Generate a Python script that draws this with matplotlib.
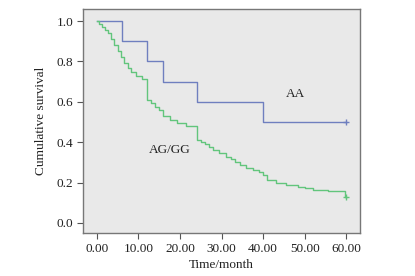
import matplotlib
matplotlib.use("Agg")
import matplotlib.pyplot as plt

# AA group (Kaplan-Meier step data)
aa_times = [0, 6.0, 12.0, 16.0, 24.0, 40.0, 60.0]
aa_surv = [1.0, 0.9, 0.8, 0.7, 0.6, 0.5, 0.5]
aa_censor = (60.0, 0.5)

# AG/GG group
ag_times = [0, 0.6, 1.3, 2.0, 2.7, 3.4, 4.2, 5.0, 5.8, 6.6, 7.4, 8.2, 9.5, 10.8,
            12.0, 13.0, 14.0, 15.0, 16.0, 17.5, 19.2, 21.5, 24.0, 25.0, 26.0, 27.0,
            28.0, 29.5, 31.2, 32.2, 33.2, 34.5, 36.0, 37.5, 39.0, 40.0, 41.0, 43.0,
            45.5, 48.5, 50.0, 52.0, 55.7, 59.6, 60.0]
ag_surv = [1.0, 0.985, 0.97, 0.955, 0.94, 0.91, 0.88, 0.85, 0.82, 0.79, 0.77, 0.75, 0.73, 0.713,
           0.61, 0.595, 0.575, 0.56, 0.53, 0.51, 0.495, 0.48, 0.41, 0.40, 0.39, 0.375,
           0.36, 0.345, 0.328, 0.315, 0.30, 0.285, 0.27, 0.26, 0.25, 0.235, 0.213, 0.196,
           0.19, 0.18, 0.172, 0.165, 0.158, 0.127, 0.127]
ag_censor = (60.0, 0.127)

x_ticks = [0, 10, 20, 30, 40, 50, 60]
x_labels = ["0.00", "10.00", "20.00", "30.00", "40.00", "50.00", "60.00"]
y_ticks = [0.0, 0.2, 0.4, 0.6, 0.8, 1.0]
y_labels = ["0.0", "0.2", "0.4", "0.6", "0.8", "1.0"]

plt.rcParams['font.family'] = ['Liberation Serif', 'DejaVu Serif']

fig = plt.figure(figsize=(4.15, 2.76), dpi=100)
ax = fig.add_axes([0.2, 0.1558, 0.6675, 0.8116])
ax.set_facecolor('#e9e9e9')

blue = '#6f7fbf'
green = '#62c57c'
ax.step(aa_times, aa_surv, where='post', color=blue, lw=1.0)
ax.step(ag_times, ag_surv, where='post', color=green, lw=1.0)
ax.plot(*aa_censor, marker='+', color=blue, ms=5, mew=1.0)
ax.plot(*ag_censor, marker='+', color=green, ms=5, mew=1.0)

ax.text(47.7, 0.64, 'AA', fontsize=9.5, color='#222222', ha='center', va='center')
ax.text(17.6, 0.36, 'AG/GG', fontsize=9.5, color='#222222', ha='center', va='center')

ax.set_xlim(-3.3, 63.3)
ax.set_ylim(-0.05, 1.06)
ax.set_xticks(x_ticks)
ax.set_xticklabels(x_labels)
ax.set_yticks(y_ticks)
ax.set_yticklabels(y_labels)
ax.tick_params(direction='out', length=4, width=0.8, color='#555555', labelsize=9.5,
               labelcolor='#222222', pad=3)
for s in ax.spines.values():
    s.set_color('#777777')
    s.set_linewidth(1.0)

ax.set_xlabel('Time/month', fontsize=9.5, color='#222222', labelpad=3)
ax.set_ylabel('Cumulative survival', fontsize=9.5, color='#222222', labelpad=7)

fig.savefig('out.png', dpi=100, facecolor='white')
